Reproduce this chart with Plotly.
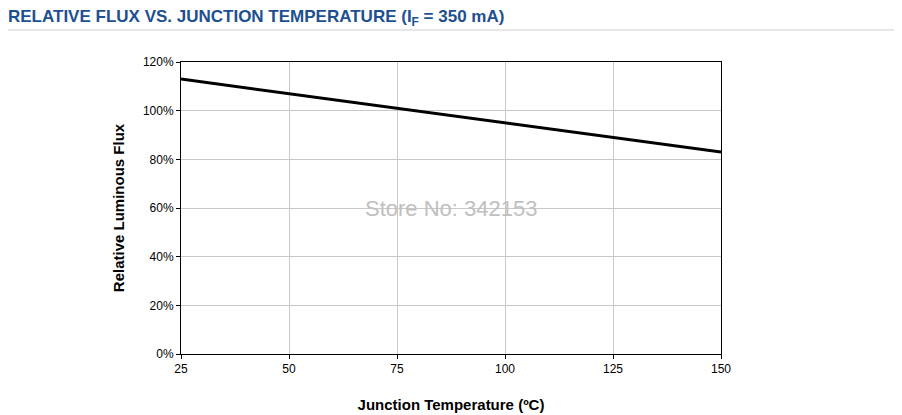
import plotly.graph_objects as go

temp = [25, 50, 75, 100, 125, 150]
flux = [113, 107, 101, 95, 89, 83]
x_ticks = [25, 50, 75, 100, 125, 150]
y_ticks = [0, 20, 40, 60, 80, 100, 120]

fig = go.Figure()
fig.add_trace(go.Scatter(x=temp, y=flux, mode="lines",
                         line=dict(color="black", width=3), showlegend=False))

fig.update_layout(
    width=902, height=415,
    margin=dict(l=173, r=189, t=54, b=69),
    paper_bgcolor="white", plot_bgcolor="white",
    font=dict(family="Liberation Sans, Arial", color="black", size=12),
    title=dict(text="<b>RELATIVE FLUX VS. JUNCTION TEMPERATURE (I<sub>F</sub> = 350 mA)</b>",
               x=0.0, xanchor="left", y=0.995, yanchor="top",
               font=dict(size=17, color="#1d4f91", family="Liberation Sans, Arial")),
)
fig.update_xaxes(range=[25, 150], tickvals=x_ticks, showgrid=True, gridcolor="#c8c8c8",
                 showline=True, linecolor="black", mirror=True, ticks="outside",
                 ticklen=4, tickcolor="black",
                 title=dict(text="<b>Junction Temperature (ºC)</b>", standoff=24,
                            font=dict(size=15)))
fig.update_yaxes(range=[0, 120], tickvals=y_ticks,
                 ticktext=[f"{v}%" for v in y_ticks], showgrid=True, gridcolor="#c8c8c8",
                 showline=True, linecolor="black", mirror=True, ticks="outside",
                 ticklen=4, tickcolor="black",
                 title=dict(text="<b>Relative Luminous Flux</b>", standoff=14,
                            font=dict(size=15)))
fig.add_shape(type="line", xref="paper", yref="paper", x0=-173/540, x1=1+189/540,
              y0=1+32/292, y1=1+32/292, line=dict(color="#d0d0d0", width=1))
fig.add_annotation(text="Store No: 342153", xref="paper", yref="paper", x=0.5, y=0.5,
                   showarrow=False, font=dict(size=22, color="#c0c0c0"))

fig.write_html("out.html")
